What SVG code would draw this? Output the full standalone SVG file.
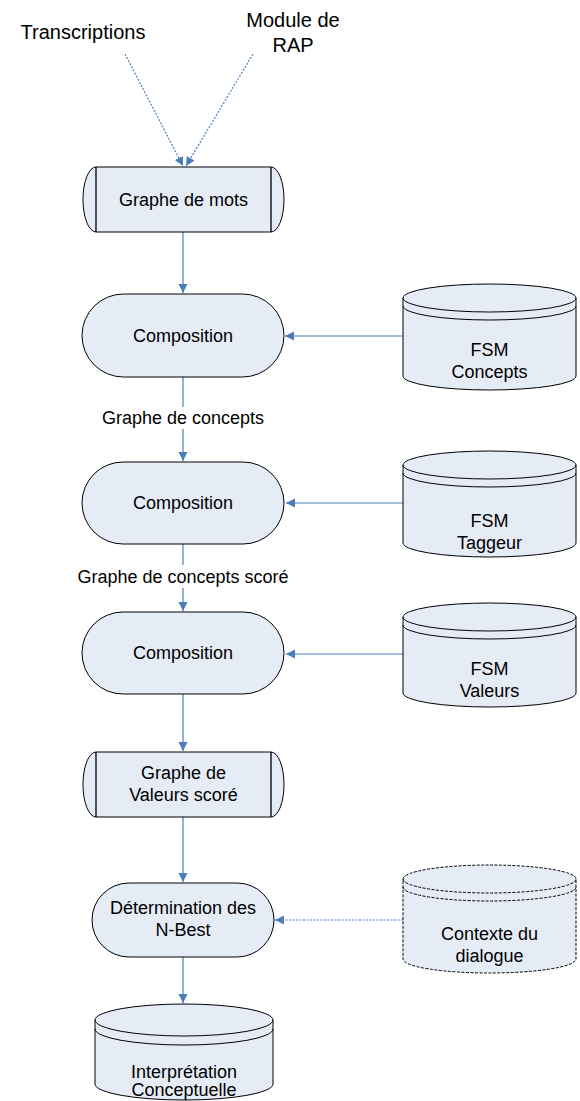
<svg xmlns="http://www.w3.org/2000/svg" width="580" height="1101" viewBox="0 0 580 1101">
<style>
  .txt { font-family: "Liberation Sans", Arial, sans-serif; font-size: 18px; fill: #000; text-anchor: middle; }
  .big { font-size: 20px; }
  .shape { fill: #E6ECF6; stroke: #000; stroke-width: 1; }
  .dashed { stroke-dasharray: 3 1.5; }
  .edge { fill: none; stroke: #4A7EBB; stroke-width: 1.2; }
  .dot { stroke-dasharray: 2 1.5; }
</style>
<defs>
  <marker id="arrow" markerUnits="userSpaceOnUse" markerWidth="10" markerHeight="10" refX="9" refY="4.5" orient="auto">
    <path d="M0,0 L9,4.5 L0,9 Z" fill="#4A7EBB"/>
  </marker>
</defs>
<rect width="580" height="1101" fill="#fff"/>

<g id="connectors">
  <line class="edge dot" x1="125" y1="54" x2="183" y2="166" marker-end="url(#arrow)"/>
  <line class="edge dot" x1="253" y1="54" x2="186" y2="166" marker-end="url(#arrow)"/>
  <line class="edge" x1="183" y1="232" x2="183" y2="293" marker-end="url(#arrow)"/>
  <line class="edge" x1="183" y1="377" x2="183" y2="407"/>
  <text class="txt" x="183" y="424">Graphe de concepts</text>
  <line class="edge" x1="183" y1="429" x2="183" y2="461" marker-end="url(#arrow)"/>
  <line class="edge" x1="183" y1="544" x2="183" y2="565"/>
  <text class="txt" x="183" y="583">Graphe de concepts scoré</text>
  <line class="edge" x1="183" y1="588" x2="183" y2="611" marker-end="url(#arrow)"/>
  <line class="edge" x1="183" y1="694" x2="183" y2="751" marker-end="url(#arrow)"/>
  <line class="edge" x1="183" y1="817" x2="183" y2="882" marker-end="url(#arrow)"/>
  <line class="edge" x1="183" y1="957" x2="183" y2="1003" marker-end="url(#arrow)"/>
  <line class="edge" x1="403" y1="336" x2="285" y2="336" marker-end="url(#arrow)"/>
  <line class="edge" x1="403" y1="503" x2="286" y2="503" marker-end="url(#arrow)"/>
  <line class="edge" x1="403" y1="654" x2="286" y2="654" marker-end="url(#arrow)"/>
  <line class="edge dot" x1="403" y1="920" x2="275" y2="920" marker-end="url(#arrow)"/>
</g>

<g id="transcriptions">
  <text class="txt big" x="83" y="39">Transcriptions</text>
</g>
<g id="module-rap">
  <text class="txt big" x="293" y="27">Module de</text>
  <text class="txt big" x="293" y="52">RAP</text>
</g>

<g id="graphe-mots">
  <path class="shape" d="M96,167 H271 A13,32.5 0 0 1 271,232 H96 A13,32.5 0 0 1 96,167 Z"/>
  <path d="M96,167 V232 M271,167 V232" stroke="#000" stroke-width="1.3" fill="none"/>
  <text class="txt" x="183.5" y="206">Graphe de mots</text>
</g>

<g id="composition1">
  <rect class="shape" x="82" y="294" width="202" height="83" rx="41.5"/>
  <text class="txt" x="183" y="342">Composition</text>
</g>

<g id="fsm-concepts">
  <path class="shape" d="M403,298 A86.5,14 0 0 1 576,298 V376 A86.5,14 0 0 1 403,376 Z"/>
  <path d="M403,298 A86.5,14 0 0 0 576,298 M403,306 A86.5,14 0 0 0 576,306" fill="none" stroke="#000"/>
  <text class="txt" x="489.5" y="356">FSM</text>
  <text class="txt" x="489.5" y="378">Concepts</text>
</g>

<g id="composition2">
  <rect class="shape" x="82" y="462" width="202" height="82" rx="41"/>
  <text class="txt" x="183" y="509">Composition</text>
</g>

<g id="fsm-taggeur">
  <path class="shape" d="M403,465 A86.5,14 0 0 1 576,465 V543 A86.5,14 0 0 1 403,543 Z"/>
  <path d="M403,465 A86.5,14 0 0 0 576,465 M403,473 A86.5,14 0 0 0 576,473" fill="none" stroke="#000"/>
  <text class="txt" x="489.5" y="527">FSM</text>
  <text class="txt" x="489.5" y="549">Taggeur</text>
</g>

<g id="composition3">
  <rect class="shape" x="82" y="612" width="202" height="82" rx="41"/>
  <text class="txt" x="183" y="659">Composition</text>
</g>

<g id="fsm-valeurs">
  <path class="shape" d="M403,617 A86.5,14 0 0 1 576,617 V693 A86.5,14 0 0 1 403,693 Z"/>
  <path d="M403,617 A86.5,14 0 0 0 576,617 M403,625 A86.5,14 0 0 0 576,625" fill="none" stroke="#000"/>
  <text class="txt" x="489.5" y="675">FSM</text>
  <text class="txt" x="489.5" y="697">Valeurs</text>
</g>

<g id="graphe-valeurs">
  <path class="shape" d="M96,752 H271 A13,32.5 0 0 1 271,817 H96 A13,32.5 0 0 1 96,752 Z"/>
  <path d="M96,752 V817 M271,752 V817" stroke="#000" stroke-width="1.3" fill="none"/>
  <text class="txt" x="183.5" y="779">Graphe de</text>
  <text class="txt" x="183.5" y="801">Valeurs scoré</text>
</g>

<g id="nbest">
  <rect class="shape" x="92" y="883" width="182" height="74" rx="37"/>
  <text class="txt" x="183" y="914">Détermination des</text>
  <text class="txt" x="183" y="936">N-Best</text>
</g>

<g id="contexte">
  <path class="shape dashed" d="M403,879 A86.5,14 0 0 1 576,879 V959 A86.5,14 0 0 1 403,959 Z"/>
  <path class="dashed" d="M403,879 A86.5,14 0 0 0 576,879 M403,887 A86.5,14 0 0 0 576,887" fill="none" stroke="#000"/>
  <text class="txt" x="489.5" y="940">Contexte du</text>
  <text class="txt" x="489.5" y="962">dialogue</text>
</g>

<g id="interpretation">
  <path class="shape" d="M95,1020 A89,16 0 0 1 273,1020 V1084 A89,16 0 0 1 95,1084 Z"/>
  <path d="M95,1020 A89,16 0 0 0 273,1020 M95,1029 A89,16 0 0 0 273,1029" fill="none" stroke="#000"/>
  <text class="txt" x="184" y="1078">Interprétation</text>
  <text class="txt" x="184" y="1096">Conceptuelle</text>
</g>
</svg>
